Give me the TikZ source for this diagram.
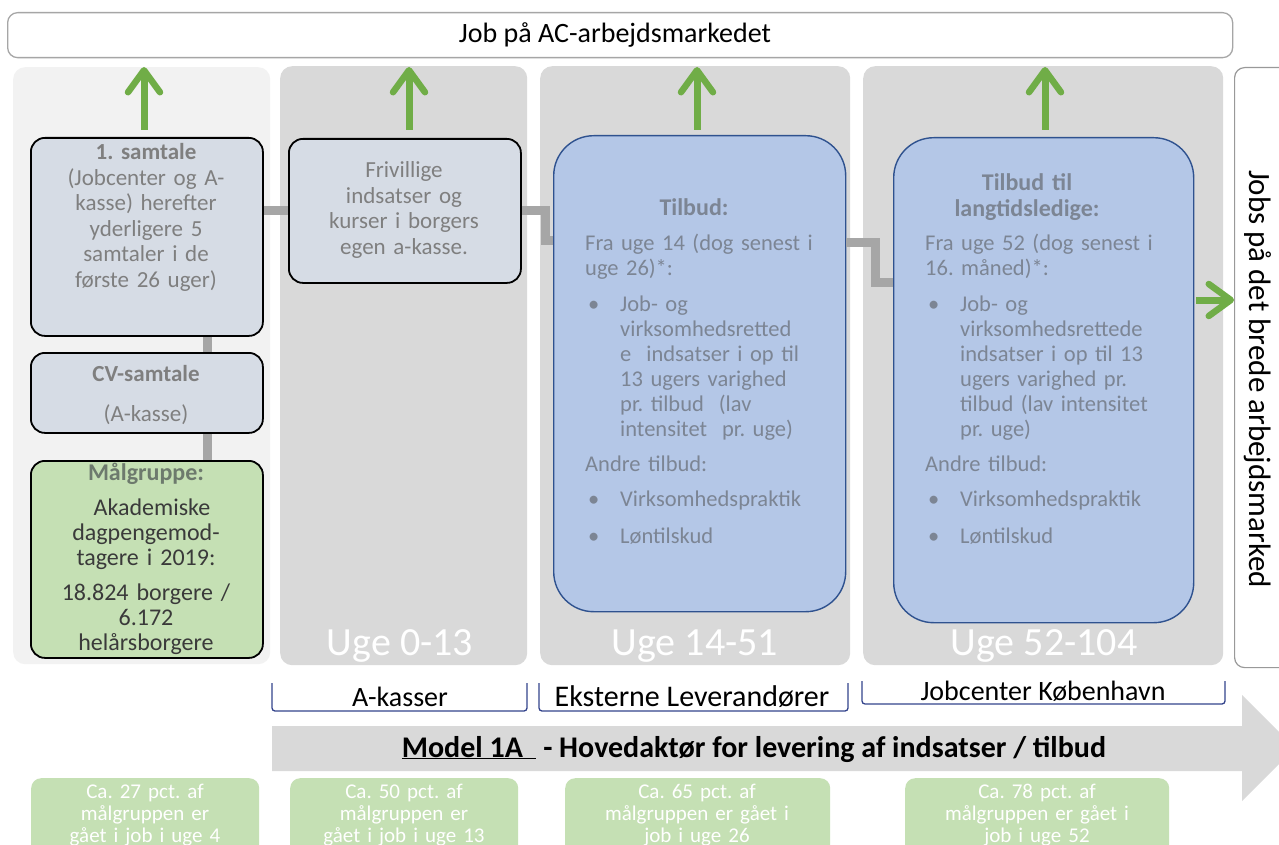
\documentclass[tikz,border=0pt]{standalone}
\usepackage{fontspec}
\setmainfont{Carlito}
\usetikzlibrary{arrows.meta,calc}
\definecolor{colL}{HTML}{F2F2F2}
\definecolor{colD}{HTML}{D9D9D9}
\definecolor{boxgray}{HTML}{D6DCE5}
\definecolor{boxblue}{HTML}{B4C7E7}
\definecolor{navyb}{HTML}{2F528F}
\definecolor{conngray}{HTML}{A6A6A6}
\definecolor{arrgreen}{HTML}{70AD47}
\definecolor{lgreen}{HTML}{C5E0B4}
\definecolor{txtgray}{HTML}{7F7F7F}
\definecolor{bluetxt}{HTML}{7C8594}
\definecolor{mgtxt}{HTML}{3A3A3A}
\definecolor{mghead}{HTML}{6D7A6D}
\definecolor{brk}{HTML}{34448C}
\newcommand{\tightsp}{\spaceskip=0.2em plus 0.05em minus 0.02em\relax}
\begin{document}
\frenchspacing
\begin{tikzpicture}[x=1pt,y=-1pt,
  colbox/.style={rounded corners=12pt,draw=none,anchor=north west,inner sep=0pt},
  panel/.style={rounded corners=14pt,draw=black,line width=1.8pt,fill=boxgray,anchor=north west,inner sep=0pt},
  bluebox/.style={rounded corners=40pt,draw=navyb,line width=1.4pt,fill=boxblue,anchor=north west,inner sep=0pt},
  conn/.style={draw=conngray,line width=9pt},
  garrow/.style={draw=arrgreen,line width=7pt,-{Straight Barb[length=22pt,width=32pt,line width=6.5pt,round]}},
  brkline/.style={draw=brk,line width=1.3pt,rounded corners=3pt},
  t23/.style={font=\fontsize{23}{25.5}\selectfont\tightsp,inner sep=0pt},
  t24/.style={font=\fontsize{24}{25}\selectfont\tightsp,inner sep=0pt},
  tbody/.style={font=\fontsize{22.5}{25}\selectfont\tightsp,inner sep=0pt,text=bluetxt,align=left,anchor=base west},
  gtxt/.style={font=\fontsize{21}{22}\selectfont\tightsp,text=white,align=center,inner sep=0pt,text width=260pt},
  ugetxt/.style={font=\fontsize{40}{44}\selectfont,text=white,inner sep=0pt},
  lbl/.style={font=\fontsize{28}{30}\selectfont,inner sep=0pt},
  gbox/.style={rounded corners=10pt,fill=lgreen,draw=none,anchor=north west,inner sep=0pt}
]
\useasboundingbox (0,0) rectangle (1279,845);
\fill[white] (0,0) rectangle (1279,845);

% top bar
\node[rounded corners=10pt,draw=gray!70,line width=1.3pt,fill=white,anchor=north west,
      minimum width=1225pt,minimum height=45pt,inner sep=0pt] (top) at (7,12) {};
\node[lbl] (topt) at (615,35) {Job på AC-arbejdsmarkedet};

% columns
\node[colbox,fill=colL,minimum width=257pt,minimum height=597pt] (c1) at (13,67) {};
\node[colbox,fill=colD,minimum width=247pt,minimum height=599pt] (c2) at (280,66) {};
\node[colbox,fill=colD,minimum width=310pt,minimum height=599pt] (c3) at (540,66) {};
\node[colbox,fill=colD,minimum width=360pt,minimum height=599pt] (c4) at (863,66) {};
\node[rounded corners=10pt,draw=gray!80,line width=1.2pt,fill=white,anchor=north west,
      minimum width=80pt,minimum height=600pt,inner sep=0pt] (rb) at (1234,67) {};
\node[font=\fontsize{31}{33}\selectfont,inner sep=0pt,rotate=-90] (rbt) at (1258,379) {Jobs på det brede arbejdsmarked};

% green arrows
\coordinate (g1a) at (144,130); \coordinate (g1b) at (144,67);
\coordinate (g2a) at (409,130); \coordinate (g2b) at (409,67);
\coordinate (g3a) at (697,130); \coordinate (g3b) at (697,67);
\coordinate (g4a) at (1045,130); \coordinate (g4b) at (1045,67);
\draw[garrow] (g1a) -- (g1b);
\draw[garrow] (g2a) -- (g2b);
\draw[garrow] (g3a) -- (g3b);
\draw[garrow] (g4a) -- (g4b);
\coordinate (g5a) at (1196,300);
\draw[garrow] (g5a) -- (rb.west |- g5a);

% connector helper coordinates
\coordinate (vx) at (207,0);
\coordinate (j1) at (545,240);
\coordinate (j2a) at (875,242);
\coordinate (j2b) at (875,282);

% boxes
\node[panel,minimum width=232pt,minimum height=198pt] (s1) at (30,137) {};
\node[panel,minimum width=232pt,minimum height=80pt] (cv) at (30,352) {};
\node[panel,fill=lgreen,minimum width=232pt,minimum height=197pt] (mg) at (30,460) {};
\node[panel,minimum width=232pt,minimum height=144pt] (fr) at (288,138) {};
\node[bluebox,minimum width=292pt,minimum height=476pt] (tb) at (553,135) {};
\node[bluebox,minimum width=300pt,minimum height=485pt] (tl) at (893,137) {};

% connectors
\draw[conn] (s1.south -| vx) -- (cv.north -| vx);
\draw[conn] (cv.south -| vx) -- (mg.north -| vx);
\draw[conn] (s1.east |- fr.west) -- (fr.west);
\draw[conn] (fr.east) -| (j1) -- (j1 -| tb.west);
\draw[conn] (j2a -| tb.east) -- (j2a) -- (j2b) -- (j2b -| tl.west);

% texts in left column
\node[t23,text=txtgray,align=center,text width=228pt,anchor=base] (s1t) at (146,160)
  {\textbf{1. samtale}\\(Jobcenter og A-\\kasse) herefter\\yderligere 5\\samtaler i de\\første 26 uger)};
\node[t23,text=txtgray,anchor=base] (cvh) at (146,381) {\textbf{CV-samtale}};
\node[t23,text=txtgray,anchor=base] (cvt) at (146,421) {(A-kasse)};
\node[t24,text=mghead,anchor=base] (mgh) at (146,480) {\textbf{Målgruppe:}};
\node[t24,text=mgtxt,align=center,text width=228pt,anchor=base] (mgt) at (146,515)
  {\hspace*{12pt}Akademiske\\dagpengemod-\\tagere i 2019:\\[10pt]18.824 borgere /\\6.172\\helårsborgere};
\node[t23,text=txtgray,align=center,text width=228pt,anchor=base] (frt) at (404,178)
  {Frivillige\\indsatser og\\kurser i borgers\\egen a-kasse.};

% Tilbud texts
\node[t24,text=bluetxt,anchor=base] (tbh) at (694,215) {\textbf{Tilbud:}};
\node[tbody,text width=258pt] (tbt) at (585,250)
  {Fra uge 14 (dog senest i\\
   uge 26)*:\\[11pt]
   \makebox[35pt][l]{\hspace{3pt}•}Job- og\\
   \hspace*{35pt}virksomhedsretted\\
   \hspace*{35pt}e\ \ indsatser i op til\\
   \hspace*{35pt}13 ugers varighed\\
   \hspace*{35pt}pr. tilbud\ \ (lav\\
   \hspace*{35pt}intensitet\ \ pr. uge)\\[10pt]
   Andre tilbud:\\[10pt]
   \makebox[35pt][l]{\hspace{3pt}•}Virksomhedspraktik\\[12pt]
   \makebox[35pt][l]{\hspace{3pt}•}Løntilskud};
\node[t24,text=bluetxt,align=center,text width=280pt,anchor=base,font=\fontsize{24}{27}\selectfont\bfseries\tightsp] (tlh) at (1027,190)
  {Tilbud til\\langtidsledige:};
\node[tbody,text width=262pt] (tlt) at (925,250)
  {Fra uge 52 (dog senest i\\
   16. måned)*:\\[11pt]
   \makebox[35pt][l]{\hspace{3pt}•}Job- og\\
   \hspace*{35pt}virksomhedsrettede\\
   \hspace*{35pt}indsatser i op til 13\\
   \hspace*{35pt}ugers varighed pr.\\
   \hspace*{35pt}tilbud (lav intensitet\\
   \hspace*{35pt}pr. uge)\\[10pt]
   Andre tilbud:\\[10pt]
   \makebox[35pt][l]{\hspace{3pt}•}Virksomhedspraktik\\[12pt]
   \makebox[35pt][l]{\hspace{3pt}•}Løntilskud};

% Uge labels
\node[ugetxt] (u1) at (400,646) {Uge 0-13};
\node[ugetxt] (u2) at (695,646) {Uge 14-51};
\node[ugetxt] (u3) at (1044,646) {Uge 52-104};

% brackets
\coordinate (bA1) at (272,683); \coordinate (bA2) at (527,683);
\coordinate (bB1) at (539,683); \coordinate (bB2) at (848,683);
\coordinate (bC1) at (862,681); \coordinate (bC2) at (1225,681);
\draw[brkline] (bA1) -- ++(0,28) -| (bA2);
\draw[brkline] (bB1) -- ++(0,28) -| (bB2);
\draw[brkline] (bC1) -- ++(0,23) -| (bC2);
\node[lbl] (la) at (400,697) {A-kasser};
\node[font=\fontsize{30}{32}\selectfont,inner sep=0pt] (lb) at (692,697) {Eksterne Leverandører};
\node[lbl] (lc) at (1043,691) {Jobcenter København};

% big gray arrow
\fill[colD] (272,726) -- (1242,726) -- (1242,695) -- (1295,748) -- (1242,801) -- (1242,771) -- (272,771) -- cycle;
\node[font=\fontsize{30}{32}\selectfont\bfseries,inner sep=0pt] (model) at (754,749)
  {\underline{Model 1A\ \ }\ - Hovedaktør for levering af indsatser / tilbud};

% bottom green boxes
\node[gbox,minimum width=228pt,minimum height=80pt] (b1) at (31,778) {};
\node[gbox,minimum width=228pt,minimum height=80pt] (b2) at (290,778) {};
\node[gbox,minimum width=265pt,minimum height=80pt] (b3) at (565,778) {};
\node[gbox,minimum width=264pt,minimum height=80pt] (b4) at (905,778) {};
\node[gtxt,anchor=base] (b1t) at (145,798) {Ca. 27 pct. af\\målgruppen er\\gået i job i uge 4};
\node[gtxt,anchor=base] (b2t) at (404,798) {Ca. 50 pct. af\\målgruppen er\\gået i job i uge 13};
\node[gtxt,anchor=base] (b3t) at (697,798) {Ca. 65 pct. af\\målgruppen er gået i\\job i uge 26};
\node[gtxt,anchor=base] (b4t) at (1037,798) {Ca. 78 pct. af\\målgruppen er gået i\\job i uge 52};
\end{tikzpicture}
\end{document}
